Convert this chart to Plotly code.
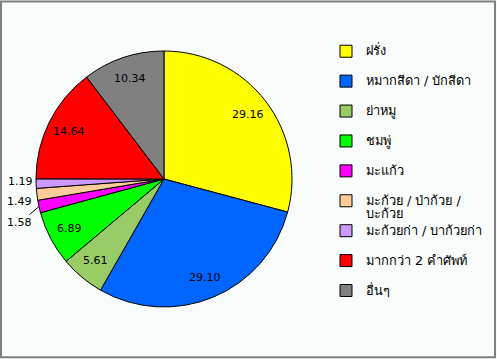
import math
import plotly.graph_objects as go

labels = ["ฝรั่ง", "หมากสีดา / บักสีดา", "ย่าหมู", "ชมพู่", "มะแก้ว",
          "มะก้วย / ป่าก้วย /<br>บะก้วย", "มะก้วยก่า / บาก้วยก่า", "มากกว่า 2 คำศัพท์", "อื่นๆ"]
values = [29.16, 29.10, 5.61, 6.89, 1.58, 1.49, 1.19, 14.64, 10.34]
colors = ["#FFFF00", "#0066FF", "#99CC66", "#00FF00", "#FF00FF",
          "#FFCC99", "#CC99FF", "#FF0000", "#808080"]
outside = [False, False, False, False, True, True, True, False, False]
# pixel offsets of the outside labels from the slice edge
label_offsets = [None, None, None, None, (-19, 16), (-17, 7), (-16, -2), None, None]
show_leader = [False, False, False, False, True, False, False, False, False]

W, H = 497, 359
cx, cy, r = 164, 179, 128
FONT = "Tahoma, DejaVu Sans, sans-serif"


def legend_text(l):
    lines = l.split("<br>")
    if len(lines) == 1:
        lines.append(" ")
    return "<br>".join('<span style="font-size:12.8px">%s</span>' % s for s in lines)


legend_labels = [legend_text(l) for l in labels]

fig = go.Figure(go.Pie(
    labels=legend_labels,
    values=values,
    sort=False,
    direction="clockwise",
    rotation=0,
    marker=dict(colors=colors, line=dict(color="#000000", width=1)),
    textinfo="none",
    domain=dict(x=[(cx - r) / W, (cx + r) / W], y=[(H - cy - r) / H, (H - cy + r) / H]),
    hoverinfo="label+value",
))

# value labels placed from each slice's mid-angle
total = sum(values)
annotations = []
cum = 0.0
for v, o, off, lead in zip(values, outside, label_offsets, show_leader):
    mid = (cum + v / 2) / total * 2 * math.pi
    cum += v
    if not o:
        px = cx + 0.83 * r * math.sin(mid)
        py = cy - 0.83 * r * math.cos(mid)
        annotations.append(dict(x=px / W, y=1 - py / H, xref="paper", yref="paper",
                                xanchor="center", yanchor="middle",
                                text="%.2f" % v, showarrow=False,
                                font=dict(family=FONT, size=11, color="#000000")))
    else:
        px = cx + r * math.sin(mid)
        py = cy - r * math.cos(mid)
        annotations.append(dict(x=px / W, y=1 - py / H, xref="paper", yref="paper",
                                text="%.2f" % v, showarrow=True, arrowhead=0,
                                arrowwidth=1,
                                arrowcolor="#000000" if lead else "rgba(0,0,0,0)",
                                ax=off[0], ay=off[1],
                                font=dict(family=FONT, size=11, color="#000000")))

fig.update_layout(
    width=W, height=H,
    margin=dict(l=0, r=0, t=0, b=0, autoexpand=False),
    paper_bgcolor="#F8FCFA",
    plot_bgcolor="#F8FCFA",
    font=dict(family=FONT, size=11, color="#000000"),
    legend=dict(
        x=326 / W, y=1 - 38 / H, xanchor="left", yanchor="top",
        font=dict(size=10.35), valign="top",
        bgcolor="rgba(0,0,0,0)",
    ),
    annotations=annotations,
    shapes=[dict(type="rect", xref="paper", yref="paper", x0=0.002, x1=0.996, y0=0.005, y1=0.996,
                 line=dict(color="#808080", width=2), fillcolor="rgba(0,0,0,0)")],
)

fig.write_html("out.html", config={"displayModeBar": False},
               post_script="document.body.style.margin='0';")
